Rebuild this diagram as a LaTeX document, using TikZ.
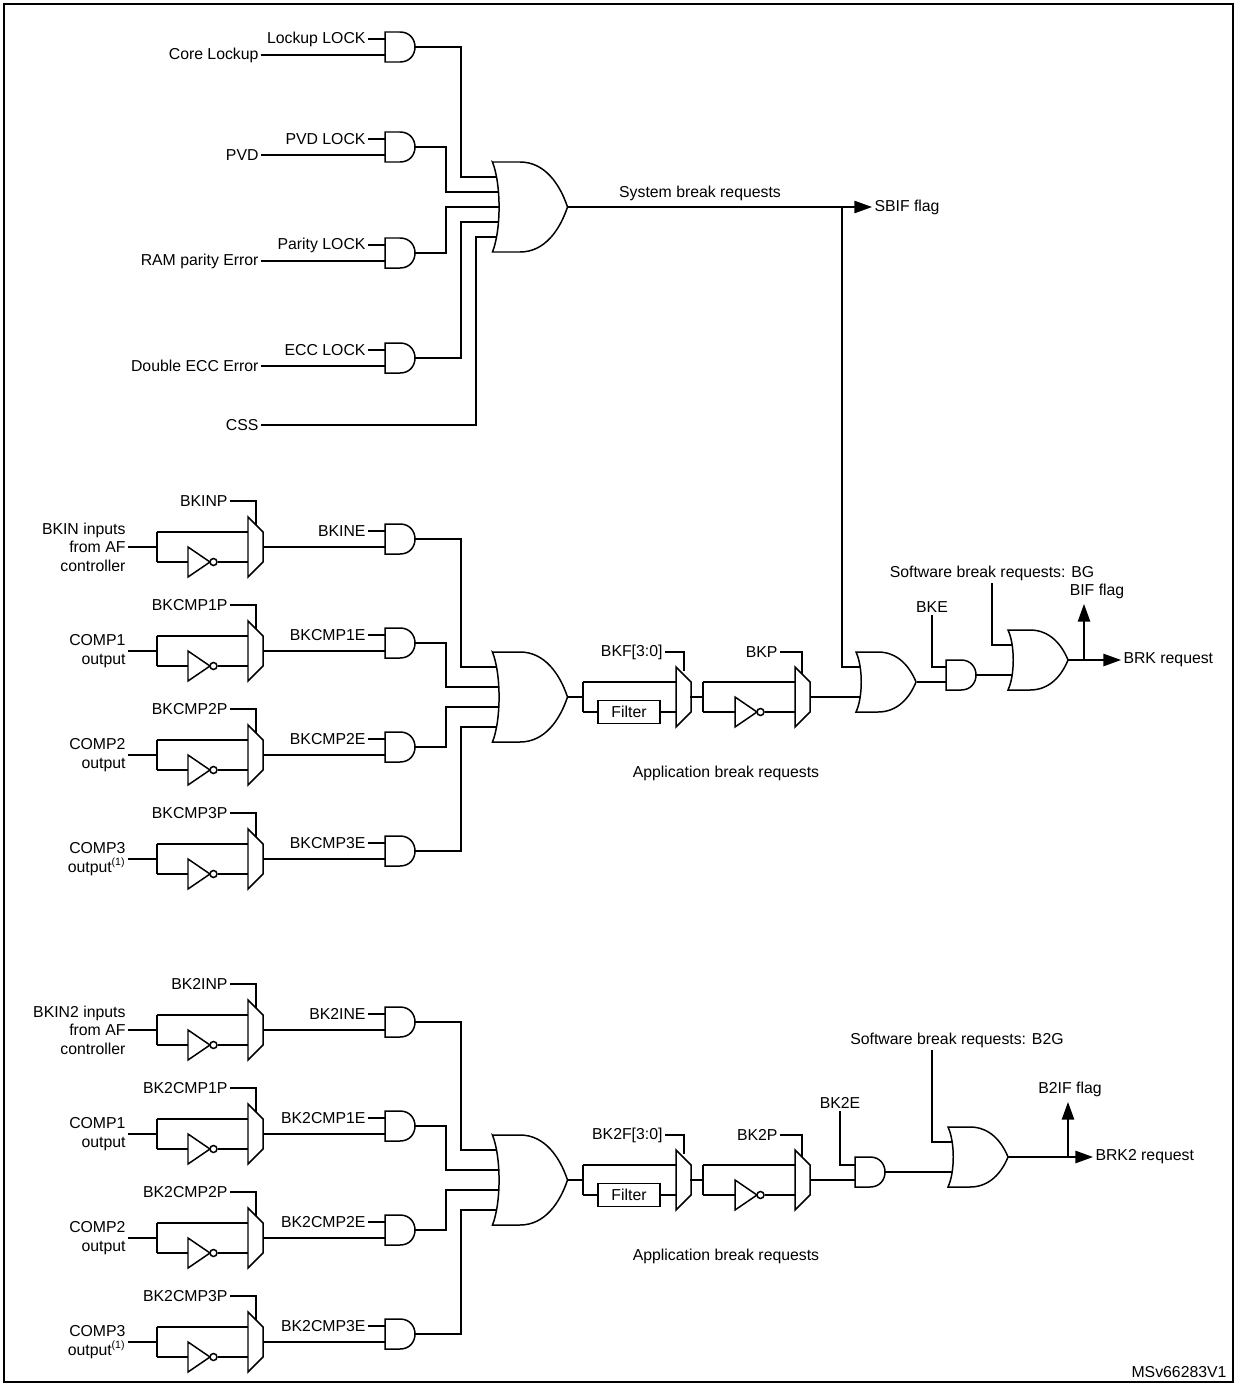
\documentclass[tikz,border=0pt]{standalone}
\usepackage{fontspec}
\setmainfont{Liberation Sans}
\usetikzlibrary{arrows.meta,calc}

\tikzset{
  lbl/.style={font=\fontsize{9}{10.6}\selectfont, inner sep=1pt},
  flag/.style={-{Triangle[length=10pt,width=7pt]}},
  andg/.pic={\draw[fill=white] (-15,-15) -- (0,-15) .. controls (20,-15) and (20,15) .. (0,15) -- (-15,15) -- cycle;},
  org/.pic={\draw[fill=white] (-30,-30) -- (-8,-30) .. controls (12,-30) and (24,-15) .. (30,0)
      .. controls (24,15) and (12,30) .. (-8,30) -- (-30,30) .. controls (-23,15) and (-23,-15) .. cycle;},
  invg/.pic={\draw[fill=white] (0,-15) -- (22,0) -- (0,15) -- cycle; \draw[fill=white] (25.5,0) circle (3.5);},
  muxg/.pic={\draw[fill=white] (0,-30) -- (15,-15) -- (15,15) -- (0,30) -- cycle;},
}

% one input row: mux with inverted path, enable AND, wire to the OR
% #1 mux output y, #2 name, #3 input, #4 polarity bit, #5 enable bit, #6 wire x, #7 OR input y
\newcommand\brkrow[7]{%
  \node[lbl, anchor=east, align=right] (#2in) at (128,#1) {#3};
  \node[lbl, anchor=east] (#2sel) at (230,#1-46) {#4};
  \node[lbl, anchor=east] (#2en) at (368,#1-16) {#5};
  \draw (#2in.east) -- (157,#1) coordinate (#2br);
  \draw (157,#1-15) -- (157,#1+15);
  \draw (157,#1-15) -- (248,#1-15);
  \draw (157,#1+15) -- (188,#1+15);
  \pic at (188,#1+15) {invg};
  \draw (217.5,#1+15) -- (248,#1+15);
  \pic (#2mux) at (248,#1) {muxg};
  \draw (#2sel.east) -- (256,#1-46) -- (256,#1-22.5);
  \draw (263,#1) -- (385,#1);
  \draw (#2en.east) -- (385,#1-16);
  \pic (#2and) at (400,#1-8) {andg};
  \draw (415,#1-8) -- (#6,#1-8) -- (#6,#7) -- (505,#7);
}

% filter and polarity chain after the OR, #1 = vertical offset
\newcommand\brkchain[2]{%
  \draw (567,697+#1) -- (583,697+#1);
  \draw (583,682+#1) -- (583,712+#1);
  \draw (583,682+#1) -- (676,682+#1);
  \draw (583,712+#1) -- (598,712+#1);
  \node[lbl, draw, minimum width=62*0.02cm, minimum height=23*0.02cm] (#2filt) at (629,712+#1) {Filter};
  \draw (#2filt.east) -- (676,712+#1);
  \pic at (676,697+#1) {muxg};
  \draw (703,697+#1) -- (690,697+#1);
  \draw (703,682+#1) -- (703,712+#1);
  \draw (703,682+#1) -- (795,682+#1);
  \draw (703,712+#1) -- (735,712+#1);
  \pic at (735,712+#1) {invg};
  \draw (764.5,712+#1) -- (795,712+#1);
  \pic at (795,697+#1) {muxg};
  \node[lbl] at (726,773+#1) {Application break requests};
}

\begin{document}
\begin{tikzpicture}[x=0.02cm, y=-0.02cm, line width=0.85pt]
\useasboundingbox (0,0) rectangle (1237,1386);
\draw (4,4) rectangle (1233,1382);

% system break inputs
\foreach \y/\lk/\src in {47/Lockup LOCK/Core Lockup, 147/PVD LOCK/PVD, 253/Parity LOCK/RAM parity Error, 358/ECC LOCK/Double ECC Error}{
  \node[lbl, anchor=east] (lk\y) at (368,\y-8) {\lk};
  \node[lbl, anchor=east] (src\y) at (261,\y+8) {\src};
  \draw (lk\y.east) -- (385,\y-8);
  \draw (src\y.east) -- (385,\y+8);
}
\draw (415,47) -- (461,47) -- (461,177) -- (505,177);
\draw (415,147) -- (446,147) -- (446,192) -- (505,192);
\draw (415,253) -- (446,253) -- (446,207) -- (505,207);
\draw (415,358) -- (461,358) -- (461,222) -- (505,222);
\node[lbl, anchor=east] (css) at (261,425) {CSS};
\draw (css.east) -- (476,425) -- (476,237) -- (505,237);
\foreach \y in {47,147,253,358} \pic at (400,\y) {andg};
\pic[xscale=1.25, yscale=1.5] at (530,207) {org};
\node[lbl] at (700,193) {System break requests};
\node[lbl, anchor=west] (sbif) at (872,207) {SBIF flag};
\draw[flag] (567,207) -- (sbif.west);
\draw (842,207) -- (842,667) -- (862,667);

% break input
\brkrow{547}{bkin}{BKIN inputs\\from AF\\controller}{BKINP}{BKINE}{461}{667}
\brkrow{651}{cmpa}{COMP1\\output}{BKCMP1P}{BKCMP1E}{446}{687}
\brkrow{755}{cmpb}{COMP2\\output}{BKCMP2P}{BKCMP2E}{446}{707}
\brkrow{859}{cmpc}{COMP3\\output\textsuperscript{(1)}}{BKCMP3P}{BKCMP3E}{461}{727}
\pic[xscale=1.25, yscale=1.5] at (530,697) {org};
\brkchain{0}{bk}
\node[lbl, anchor=east] (bkf) at (665,652) {BKF[3:0]};
\draw (bkf.east) -- (684,652) -- (684,671);
\node[lbl, anchor=east] (bkp) at (780,652) {BKP};
\draw (bkp.east) -- (802,652) -- (802,674);
\draw (810,697) -- (862,697);
\node[lbl] (bke) at (932,607) {BKE};
\draw (bke.south) -- (932,667) -- (946,667);
\draw (917,682) -- (946,682);
\node[lbl] (bg) at (992,573) {Software break requests: BG};
\draw (992,583) -- (992,645) -- (1014,645);
\draw (976,675) -- (1014,675);
\pic at (886,682) {org};
\pic at (961,675) {andg};
\pic at (1038,660) {org};
\node[lbl, anchor=west] (brk) at (1121,660) {BRK request};
\draw[flag] (1068,660) -- (brk.west);
\node[lbl] (bif) at (1097,591) {BIF flag};
\draw[flag] (1084,660) -- (1084,604);

% break input 2
\brkrow{1030}{bktwo}{BKIN2 inputs\\from AF\\controller}{BK2INP}{BK2INE}{461}{1150}
\brkrow{1134}{cmpd}{COMP1\\output}{BK2CMP1P}{BK2CMP1E}{446}{1170}
\brkrow{1238}{cmpe}{COMP2\\output}{BK2CMP2P}{BK2CMP2E}{446}{1190}
\brkrow{1342}{cmpf}{COMP3\\output\textsuperscript{(1)}}{BK2CMP3P}{BK2CMP3E}{461}{1210}
\pic[xscale=1.25, yscale=1.5] at (530,1180) {org};
\brkchain{483}{bkb}
\node[lbl, anchor=east] (bkff) at (665,1135) {BK2F[3:0]};
\draw (bkff.east) -- (684,1135) -- (684,1154);
\node[lbl, anchor=east] (bkpp) at (780,1135) {BK2P};
\draw (bkpp.east) -- (802,1135) -- (802,1157);
\draw (810,1180) -- (855,1180);
\node[lbl] (bkee) at (840,1103) {BK2E};
\draw (bkee.south) -- (840,1165) -- (855,1165);
\node[lbl] (bgg) at (957,1040) {Software break requests: B2G};
\draw (932,1050) -- (932,1142) -- (953,1142);
\draw (885,1172) -- (953,1172);
\pic at (870,1172) {andg};
\pic at (978,1157) {org};
\node[lbl, anchor=west] (brkk) at (1093,1157) {BRK2 request};
\draw[flag] (1008,1157) -- (brkk.west);
\node[lbl] (biff) at (1070,1089) {B2IF flag};
\draw[flag] (1068,1157) -- (1068,1102);

\node[lbl, anchor=east] at (1229,1372) {MSv66283V1};
\end{tikzpicture}
\end{document}
